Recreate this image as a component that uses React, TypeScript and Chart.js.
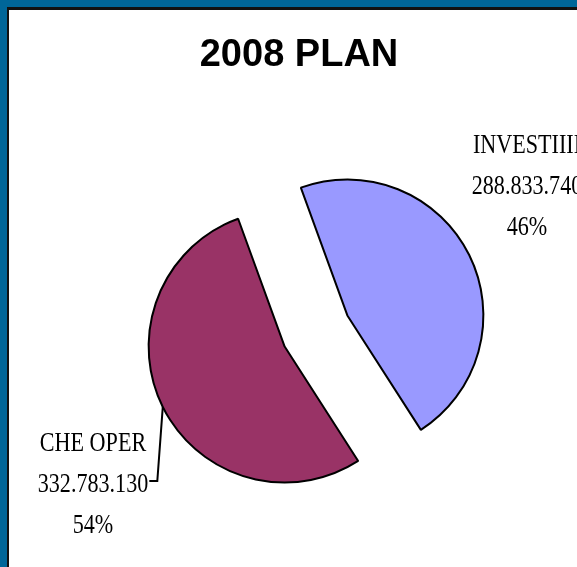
import React, { useEffect, useRef } from "react";
import { Chart, registerables } from "chart.js";

Chart.register(...registerables);

const TITLE = "2008 PLAN";
const categories = ["INVESTIIII", "CHE OPER"];
const values = [288833740, 332783130];
const sliceColors = ["#9999FF", "#993366"];

const formatValue = (v: number) => String(v).replace(/\B(?=(\d{3})+(?!\d))/g, ".");

const explodePlugin = {
  id: "explode",
  afterDatasetsUpdate(chart: any, _args: any, opts: any) {
    const meta = chart.getDatasetMeta(0);
    meta.data.forEach((arc: any) => {
      const mid = (arc.startAngle + arc.endAngle) / 2;
      arc.x += Math.cos(mid) * opts.distance;
      arc.y += Math.sin(mid) * opts.distance;
    });
  },
};

function drawCondensed(ctx: CanvasRenderingContext2D, text: string, x: number, y: number, scale: number) {
  ctx.save();
  ctx.translate(x, y);
  ctx.scale(scale, 1);
  ctx.textAlign = "center";
  ctx.textBaseline = "middle";
  ctx.fillText(text, 0, 0);
  ctx.restore();
}

const labelsPlugin = {
  id: "sliceLabels",
  afterDraw(chart: any, _args: any, opts: any) {
    const ctx: CanvasRenderingContext2D = chart.ctx;
    const area = chart.chartArea;
    const cx = (area.left + area.right) / 2;
    const cy = (area.top + area.bottom) / 2;
    const meta = chart.getDatasetMeta(0);
    const total = values.reduce((a, b) => a + b, 0);
    ctx.save();
    ctx.fillStyle = "#000";
    ctx.font = 'bold 38px "Liberation Sans", Arial, sans-serif';
    ctx.textAlign = "center";
    ctx.textBaseline = "middle";
    ctx.fillText(TITLE, opts.titleX, opts.titleY);

    ctx.font = '28px "Liberation Serif", "Times New Roman", serif';
    categories.forEach((cat, i) => {
      const a = opts.anchors[i];
      const x = cx + a.dx;
      const y = cy + a.dy;
      const lines = [cat, formatValue(values[i]), Math.round((values[i] / total) * 100) + "%"];
      lines.forEach((t, j) => drawCondensed(ctx, t, x, y + (j - 1) * opts.lineGap, opts.scale));
      if (a.leader) {
        const arc = meta.data[i];
        const mid = (arc.startAngle + arc.endAngle) / 2;
        const ex = arc.x + Math.cos(mid) * arc.outerRadius;
        const ey = arc.y + Math.sin(mid) * arc.outerRadius;
        const w = ctx.measureText(lines[1]).width * opts.scale;
        const tx = x + w / 2 + 1;
        const ty = y - 4;
        ctx.strokeStyle = "#000";
        ctx.lineWidth = 2;
        ctx.beginPath();
        ctx.moveTo(ex, ey);
        ctx.lineTo(tx + 8, ty);
        ctx.lineTo(tx, ty);
        ctx.stroke();
      }
    });
    ctx.restore();
  },
};

export default function App() {
  const ref = useRef<HTMLCanvasElement | null>(null);
  useEffect(() => {
    if (!ref.current) return;
    const chart = new Chart(ref.current, {
      type: "pie",
      data: {
        labels: categories,
        datasets: [
          {
            data: values,
            backgroundColor: sliceColors,
            borderColor: "#000",
            borderWidth: 2,
            radius: 136,
            rotation: -20,
            hoverOffset: 0,
          } as any,
        ],
      },
      options: {
        animation: false,
        responsive: false,
        maintainAspectRatio: false,
        events: [],
        radius: 136,
        rotation: -20,
        layout: { padding: { left: 146, right: 91, top: 161, bottom: 66 } },
        plugins: {
          legend: { display: false },
          tooltip: { enabled: false },
          title: { display: false },
          explode: { distance: 35 },
          sliceLabels: {
            titleX: 299,
            titleY: 56,
            lineGap: 41,
            scale: 0.79,
            anchors: [
              { dx: 211, dy: -144, leader: false },
              { dx: -223, dy: 154, leader: true },
            ],
          },
        } as any,
      } as any,
      plugins: [explodePlugin, labelsPlugin],
    });
    return () => chart.destroy();
  }, []);

  return (
    <div
      style={{
        position: "absolute",
        left: 0,
        top: 0,
        width: 577,
        height: 567,
        overflow: "hidden",
        background: "#006699",
      }}
    >
      <div
        style={{
          position: "absolute",
          left: 7,
          top: 7,
          right: -40,
          bottom: -40,
          background: "#ffffff",
          borderLeft: "2px solid #111",
          borderTop: "3px solid #111",
        }}
      />
      <canvas
        ref={ref}
        width={577}
        height={567}
        style={{ position: "absolute", left: 0, top: 0, width: 577, height: 567 }}
      />
    </div>
  );
}
